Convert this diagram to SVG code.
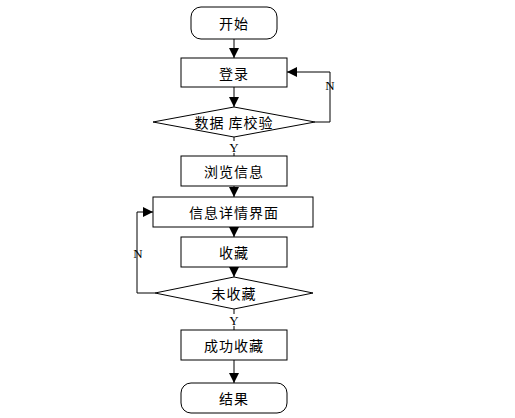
<svg xmlns="http://www.w3.org/2000/svg" width="515" height="418" viewBox="0 0 515 418">
<style>
.box{fill:#fff;stroke:#000;stroke-width:1}
.ln{fill:none;stroke:#000;stroke-width:1}
.t{font-family:"Noto Sans CJK SC","Liberation Sans",sans-serif;font-size:14px;fill:#000;text-anchor:middle;dominant-baseline:central;letter-spacing:1px}
.l{font-family:"Liberation Serif",serif;font-size:13px;fill:#000;text-anchor:middle;dominant-baseline:central}
</style>
<defs>
<marker id="ah" viewBox="0 0 10 10" refX="10" refY="5" markerWidth="10" markerHeight="10" markerUnits="userSpaceOnUse" orient="auto">
<path d="M0,0 L10,5 L0,10 Z" fill="#000"/>
</marker>
</defs>
<rect width="515" height="418" fill="#fff"/>
<g id="connectors">
<line class="ln" x1="234" y1="39" x2="234" y2="58" marker-end="url(#ah)"/>
<line class="ln" x1="234" y1="87" x2="234" y2="107" marker-end="url(#ah)"/>
<polyline class="ln" points="315,122 330,122 330,72 287,72" marker-end="url(#ah)"/>
<text class="l" x="330" y="85">N</text>
<line class="ln" x1="234" y1="137" x2="234" y2="141"/>
<line class="ln" x1="234" y1="153" x2="234" y2="156"/>
<text class="l" x="234" y="147">Y</text>
<line class="ln" x1="234" y1="186" x2="234" y2="197" marker-end="url(#ah)"/>
<line class="ln" x1="234" y1="227" x2="234" y2="237" marker-end="url(#ah)"/>
<line class="ln" x1="234" y1="267" x2="234" y2="277" marker-end="url(#ah)"/>
<polyline class="ln" points="155,293 137,293 137,212 153,212" marker-end="url(#ah)"/>
<text class="l" x="138" y="253">N</text>
<line class="ln" x1="234" y1="309" x2="234" y2="314"/>
<line class="ln" x1="234" y1="326" x2="234" y2="330"/>
<text class="l" x="234" y="320">Y</text>
<line class="ln" x1="234" y1="360" x2="234" y2="383" marker-end="url(#ah)"/>
</g>
<g id="start"><rect class="box" x="191" y="7" width="86" height="32" rx="10"/><text class="t" x="234" y="23">开始</text></g>
<g id="login"><rect class="box" x="181" y="58" width="106" height="29"/><text class="t" x="234" y="72.5">登录</text></g>
<g id="dbcheck"><polygon class="box" points="234,107 315,122 234,137 153,122"/><text class="t" x="234" y="122">数据 库校验</text></g>
<g id="browse"><rect class="box" x="181" y="156" width="106" height="30"/><text class="t" x="234" y="171">浏览信息</text></g>
<g id="detail"><rect class="box" x="153" y="197" width="160" height="30"/><text class="t" x="234" y="212">信息详情界面</text></g>
<g id="collect"><rect class="box" x="181" y="237" width="106" height="30"/><text class="t" x="234" y="252">收藏</text></g>
<g id="notcollected"><polygon class="box" points="234,277 313,293 234,309 155,293"/><text class="t" x="234" y="293">未收藏</text></g>
<g id="success"><rect class="box" x="181" y="330" width="106" height="30"/><text class="t" x="234" y="345">成功收藏</text></g>
<g id="end"><rect class="box" x="181" y="383" width="106" height="30" rx="10"/><text class="t" x="234" y="398">结果</text></g>
</svg>
